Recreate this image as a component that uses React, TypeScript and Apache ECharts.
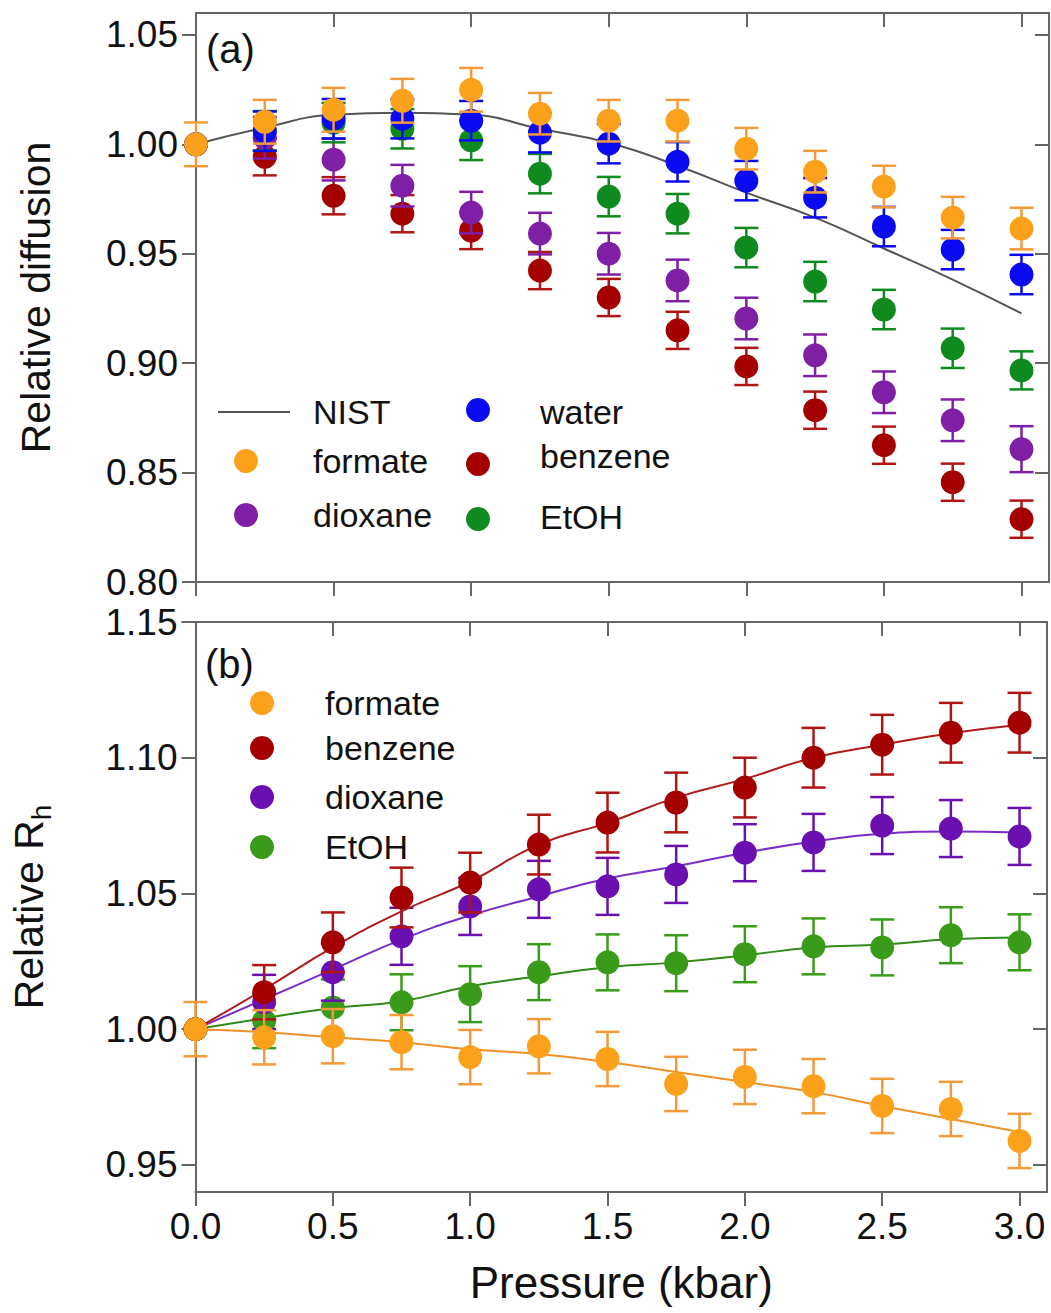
import React, { useEffect, useRef } from "react";
import * as echarts from "echarts";

// ---------- data ----------
const pressure = [0, 0.25, 0.5, 0.75, 1.0, 1.25, 1.5, 1.75, 2.0, 2.25, 2.5, 2.75, 3.0];
const xTicks = [0, 0.5, 1.0, 1.5, 2.0, 2.5, 3.0];
const yTicksA = [0.8, 0.85, 0.9, 0.95, 1.0, 1.05];
const yTicksB = [0.95, 1.0, 1.05, 1.1, 1.15];

// panel (a): relative diffusion
const nistA = [1.0, 1.0076, 1.0135, 1.0144, 1.0135, 1.0071, 1.0007, 0.9902, 0.9779, 0.9665, 0.9524, 0.9382, 0.9227];
const formateA = [1.0, 1.0103, 1.0158, 1.0199, 1.0249, 1.014, 1.0108, 1.0108, 0.998, 0.9875, 0.9807, 0.9665, 0.9615];
const waterA = [1.0, 1.006, 1.0117, 1.0117, 1.0108, 1.0053, 1.0003, 0.992, 0.9834, 0.9756, 0.9624, 0.9519, 0.9405];
const benzeneA = [1.0, 0.9943, 0.9765, 0.9683, 0.9606, 0.9423, 0.93, 0.915, 0.8985, 0.8785, 0.8625, 0.8456, 0.8287];
const dioxaneA = [1.0, 1.003, 0.993, 0.9811, 0.9688, 0.9592, 0.95, 0.9378, 0.9204, 0.9036, 0.8867, 0.8739, 0.8607];
const etohA = [1.0, 1.0062, 1.0099, 1.0071, 1.0018, 0.9866, 0.9761, 0.9683, 0.9528, 0.9373, 0.9245, 0.9068, 0.8967];
const errFormateA = [0.01, 0.01, 0.01, 0.01, 0.01, 0.0095, 0.0095, 0.0095, 0.0095, 0.0095, 0.0095, 0.0095, 0.0095];
const errWaterA = [0, 0.009, 0.009, 0.009, 0.009, 0.009, 0.009, 0.009, 0.009, 0.009, 0.009, 0.009, 0.009];
const errBenzeneA = [0, 0.0085, 0.0085, 0.0085, 0.0085, 0.0085, 0.0085, 0.0085, 0.0085, 0.0085, 0.0085, 0.0085, 0.0085];
const errDioxaneA = [0, 0.0095, 0.0095, 0.0095, 0.0095, 0.0095, 0.0095, 0.0095, 0.0095, 0.0095, 0.0095, 0.0095, 0.0105];
const errEtohA = [0, 0.009, 0.009, 0.009, 0.009, 0.009, 0.009, 0.009, 0.009, 0.009, 0.009, 0.009, 0.0087];

// panel (b): relative Rh
const formateB = [1.0, 0.997, 0.9974, 0.9952, 0.9897, 0.9937, 0.989, 0.9798, 0.9824, 0.979, 0.9717, 0.9706, 0.9588];
const benzeneB = [1.0, 1.0136, 1.032, 1.0485, 1.054, 1.068, 1.0761, 1.0835, 1.089, 1.1, 1.1048, 1.1092, 1.1129];
const dioxaneB = [1.0, 1.01, 1.021, 1.0342, 1.0452, 1.0515, 1.0526, 1.057, 1.065, 1.0688, 1.075, 1.0739, 1.071];
const etohB = [1.0, 1.003, 1.008, 1.0099, 1.0129, 1.021, 1.0246, 1.0243, 1.0276, 1.0305, 1.0301, 1.0346, 1.032];
const formateFit = [1.0, 0.9989, 0.997, 0.9952, 0.9926, 0.9908, 0.9879, 0.9842, 0.9805, 0.9768, 0.9717, 0.9669, 0.9621];
const benzeneFit = [1.0, 1.0147, 1.0301, 1.0434, 1.0544, 1.068, 1.076, 1.0853, 1.0922, 1.1, 1.1048, 1.109, 1.1121];
const dioxaneFit = [1.0, 1.011, 1.022, 1.033, 1.0419, 1.0489, 1.0555, 1.06, 1.065, 1.0691, 1.072, 1.0728, 1.0724];
const etohFit = [1.0, 1.004, 1.0078, 1.0103, 1.0158, 1.0195, 1.0228, 1.0246, 1.0272, 1.0301, 1.0312, 1.0331, 1.0338];
const errFormateB = [0.01, 0.01, 0.01, 0.01, 0.01, 0.01, 0.01, 0.01, 0.01, 0.01, 0.01, 0.01, 0.01];
const errBenzeneB = [0, 0.01, 0.011, 0.011, 0.011, 0.011, 0.011, 0.011, 0.011, 0.011, 0.011, 0.011, 0.011];
const errDioxaneB = [0, 0.01, 0.0105, 0.0105, 0.0105, 0.0105, 0.0105, 0.0105, 0.0105, 0.0105, 0.0105, 0.0105, 0.0105];
const errEtohB = [0, 0.01, 0.0103, 0.0103, 0.0103, 0.0103, 0.0103, 0.0103, 0.0103, 0.0103, 0.0103, 0.0103, 0.0103];

// ---------- style ----------
const FONT = "'Liberation Sans', Arial, Helvetica, sans-serif";
const AXIS = "#666";
const TXT = "#111";
const C = {
  orange: "#FBA11B",
  orangeBar: "#F39A3A",
  blue: "#0A0AF0",
  red: "#A40000",
  redBar: "#B01515",
  purpleA: "#7E1FA5",
  greenA: "#0E8A1E",
  purpleB: "#6A10B0",
  greenB: "#3A9B1A",
  nist: "#555",
};

function pairs(ys: number[]) {
  return pressure.map((x, i) => [x, ys[i]]);
}

function errBars(xi: number, yi: number, ys: number[], errs: number[], color: string, z: number) {
  return {
    type: "custom",
    xAxisIndex: xi,
    yAxisIndex: yi,
    z,
    silent: true,
    clip: false,
    encode: { x: 0, y: 1 },
    data: pressure.map((x, i) => [x, ys[i], errs[i]]),
    renderItem: (_p: any, api: any) => {
      const x = api.value(0);
      const y = api.value(1);
      const e = api.value(2);
      if (!e) return { type: "group", children: [] };
      const hi = api.coord([x, y + e]);
      const lo = api.coord([x, y - e]);
      const h = 12;
      const st = { stroke: color, lineWidth: 2.5 };
      return {
        type: "group",
        children: [
          { type: "line", shape: { x1: hi[0], y1: hi[1], x2: lo[0], y2: lo[1] }, style: st },
          { type: "line", shape: { x1: hi[0] - h, y1: hi[1], x2: hi[0] + h, y2: hi[1] }, style: st },
          { type: "line", shape: { x1: lo[0] - h, y1: lo[1], x2: lo[0] + h, y2: lo[1] }, style: st },
        ],
      };
    },
  };
}

function dots(xi: number, yi: number, ys: number[], color: string, z: number) {
  return {
    type: "scatter",
    xAxisIndex: xi,
    yAxisIndex: yi,
    z,
    clip: false,
    symbol: "circle",
    symbolSize: 24,
    itemStyle: { color, opacity: 1 },
    data: pairs(ys),
  };
}

function curve(xi: number, yi: number, ys: number[], color: string, z: number) {
  return {
    type: "line",
    xAxisIndex: xi,
    yAxisIndex: yi,
    z,
    smooth: true,
    showSymbol: false,
    symbol: "none",
    lineStyle: { color, width: 2 },
    data: pairs(ys),
  };
}

const axisLine = { show: true, onZero: false, lineStyle: { color: AXIS, width: 2 } };

function xAx(grid: number, pos: "top" | "bottom", labels: boolean, inside: boolean, name?: string) {
  return {
    type: "value",
    gridIndex: grid,
    position: pos,
    min: 0,
    max: 3.1,
    axisLine,
    splitLine: { show: false },
    axisTick: { show: true, inside, length: 14, customValues: xTicks, lineStyle: { color: AXIS, width: 2 } },
    axisLabel: {
      show: labels,
      customValues: xTicks,
      formatter: (v: number) => v.toFixed(1),
      fontSize: 37,
      fontFamily: FONT,
      color: TXT,
      margin: 16,
    },
    name: name || "",
    nameLocation: "middle",
    nameGap: 68,
    nameTextStyle: { fontSize: 44, fontFamily: FONT, color: TXT },
  };
}

function yAx(grid: number, pos: "left" | "right", min: number, max: number, ticks: number[], labels: boolean, inside: boolean, name?: string, nameStyle?: any) {
  return {
    type: "value",
    gridIndex: grid,
    position: pos,
    min,
    max,
    axisLine,
    splitLine: { show: false },
    axisTick: { show: true, inside, length: 14, customValues: ticks, lineStyle: { color: AXIS, width: 2 } },
    axisLabel: {
      show: labels,
      customValues: ticks,
      formatter: (v: number) => v.toFixed(2),
      fontSize: 37,
      fontFamily: FONT,
      color: TXT,
      margin: 18,
    },
    name: name || "",
    nameLocation: "middle",
    nameGap: 140,
    nameRotate: 90,
    nameTextStyle: nameStyle || { fontSize: 41, fontFamily: FONT, color: TXT },
  };
}

function legendDot(cx: number, cy: number, color: string) {
  return { type: "circle", shape: { cx, cy, r: 12 }, style: { fill: color }, z: 100 };
}
function legendText(x: number, y: number, text: string) {
  return {
    type: "text",
    x,
    y,
    z: 100,
    style: { text, fontSize: 34, fontFamily: FONT, fill: TXT, textVerticalAlign: "middle", verticalAlign: "middle" },
  };
}

export default function App() {
  const ref = useRef<HTMLDivElement>(null);
  useEffect(() => {
    if (!ref.current) return;
    const chart = echarts.init(ref.current, null, { renderer: "svg" });
    chart.setOption({
      animation: false,
      backgroundColor: "#fff",
      grid: [
        { left: 196, top: 13, width: 853, height: 569 },
        { left: 192, top: 622, width: 855, height: 570 },
      ],
      xAxis: [
        xAx(0, "bottom", false, false),
        xAx(0, "top", false, true),
        xAx(1, "bottom", true, false, "Pressure (kbar)"),
        xAx(1, "top", false, true),
      ],
      yAxis: [
        yAx(0, "left", 0.8, 1.06, yTicksA, true, false, "Relative diffusion"),
        yAx(0, "right", 0.8, 1.06, yTicksA, false, true),
        yAx(1, "left", 0.94, 1.15, yTicksB, true, false, "{t|Relative R}{s|h}", {
          rich: {
            t: { fontSize: 41, fontFamily: FONT, color: TXT },
            s: { fontSize: 28, fontFamily: FONT, color: TXT, padding: [26, 0, 0, 0], verticalAlign: "bottom" },
          },
        }),
        yAx(1, "right", 0.94, 1.15, yTicksB, false, true),
      ],
      series: [
        // panel (a)
        curve(0, 0, nistA, C.nist, 2),
        errBars(0, 0, benzeneA, errBenzeneA, C.redBar, 3),
        dots(0, 0, benzeneA, C.red, 4),
        errBars(0, 0, dioxaneA, errDioxaneA, C.purpleA, 5),
        dots(0, 0, dioxaneA, C.purpleA, 6),
        errBars(0, 0, etohA, errEtohA, C.greenA, 7),
        dots(0, 0, etohA, C.greenA, 8),
        errBars(0, 0, waterA, errWaterA, C.blue, 9),
        dots(0, 0, waterA, C.blue, 10),
        errBars(0, 0, formateA, errFormateA, C.orangeBar, 11),
        dots(0, 0, formateA, C.orange, 12),
        // panel (b)
        errBars(2, 2, etohB, errEtohB, C.greenB, 3),
        curve(2, 2, etohFit, "#2F8A1A", 4),
        dots(2, 2, etohB, C.greenB, 5),
        errBars(2, 2, dioxaneB, errDioxaneB, C.purpleB, 6),
        curve(2, 2, dioxaneFit, "#7A2CC8", 7),
        dots(2, 2, dioxaneB, C.purpleB, 8),
        errBars(2, 2, benzeneB, errBenzeneB, C.redBar, 9),
        curve(2, 2, benzeneFit, "#B01A1A", 10),
        dots(2, 2, benzeneB, C.red, 11),
        errBars(2, 2, formateB, errFormateB, C.orangeBar, 12),
        curve(2, 2, formateFit, "#F0902A", 13),
        dots(2, 2, formateB, C.orange, 14),
      ],
      graphic: [
        { type: "text", x: 206, y: 49, z: 100, style: { text: "(a)", fontSize: 40, fontFamily: FONT, fill: TXT, verticalAlign: "middle" } },
        { type: "text", x: 205, y: 664, z: 100, style: { text: "(b)", fontSize: 40, fontFamily: FONT, fill: TXT, verticalAlign: "middle" } },
        // legend (a)
        { type: "line", z: 100, shape: { x1: 218, y1: 412, x2: 290, y2: 412 }, style: { stroke: C.nist, lineWidth: 2 } },
        legendText(313, 412, "NIST"),
        legendDot(246, 461, C.orange),
        legendText(313, 461, "formate"),
        legendDot(246, 515, C.purpleA),
        legendText(313, 515, "dioxane"),
        legendDot(478, 410, C.blue),
        legendText(540, 412, "water"),
        legendDot(478, 464, C.red),
        legendText(540, 456, "benzene"),
        legendDot(478, 519, C.greenA),
        legendText(540, 517, "EtOH"),
        // legend (b)
        legendDot(262, 703, C.orange),
        legendText(325, 703, "formate"),
        legendDot(262, 748, C.red),
        legendText(325, 748, "benzene"),
        legendDot(262, 797, C.purpleB),
        legendText(325, 797, "dioxane"),
        legendDot(262, 847, C.greenB),
        legendText(325, 847, "EtOH"),
      ],
    });
    return () => chart.dispose();
  }, []);
  return <div ref={ref} style={{ position: "absolute", left: 0, top: 0, width: 1051, height: 1313 }} />;
}
